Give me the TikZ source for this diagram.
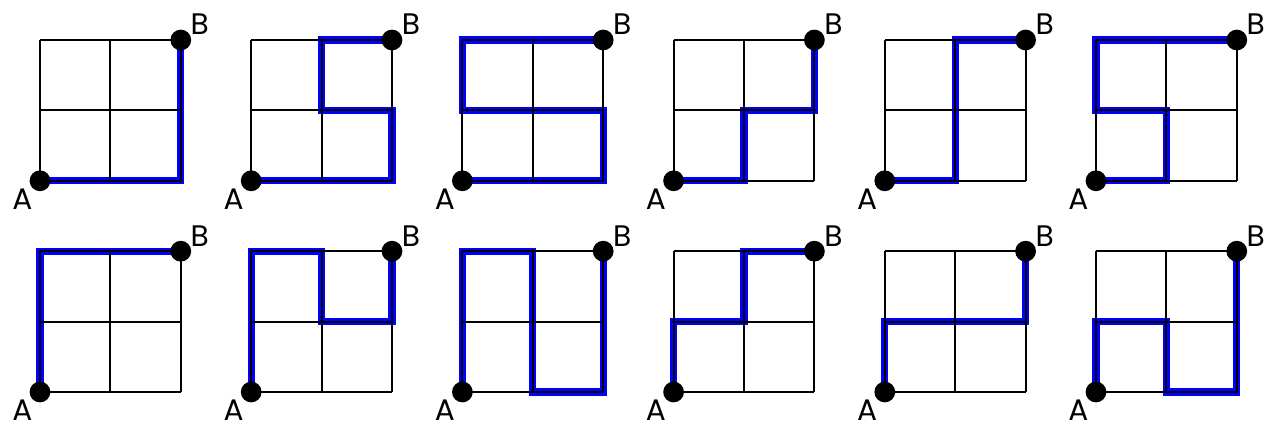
\documentclass[tikz,border=0pt]{standalone}
\usepackage{fontspec}
\setmainfont{Poppins}
\begin{document}
\begin{tikzpicture}[
  x=1cm,y=1cm,
  gridline/.style={line width=0.8pt},
  route/.style={blue,line width=2.9pt,line join=miter},
  dot/.style={circle,fill=black,inner sep=0pt,minimum size=2.95mm},
  lbl/.style={font=\fontsize{12}{14}\selectfont,inner sep=0pt}
]
\useasboundingbox (-0.568,-0.4545) rectangle (17.486,5.568);

% routes, top row
\draw[route] (0,3) -- (2,3) -- (2,5);
\draw[route] (3,3) -- (5,3) -- (5,4) -- (4,4) -- (4,5) -- (5,5);
\draw[route] (6,3) -- (8,3) -- (8,4) -- (6,4) -- (6,5) -- (8,5);
\draw[route] (9,3) -- (10,3) -- (10,4) -- (11,4) -- (11,5);
\draw[route] (12,3) -- (13,3) -- (13,5) -- (14,5);
\draw[route] (15,3) -- (16,3) -- (16,4) -- (15,4) -- (15,5) -- (17,5);
% routes, bottom row
\draw[route] (0,0) -- (0,2) -- (2,2);
\draw[route] (3,0) -- (3,2) -- (4,2) -- (4,1) -- (5,1) -- (5,2);
\draw[route] (6,0) -- (6,2) -- (7,2) -- (7,0) -- (8,0) -- (8,2);
\draw[route] (9,0) -- (9,1) -- (10,1) -- (10,2) -- (11,2);
\draw[route] (12,0) -- (12,1) -- (14,1) -- (14,2);
\draw[route] (15,0) -- (15,1) -- (16,1) -- (16,0) -- (17,0) -- (17,2);

% grids with end points
\foreach \c in {0,...,5}
  \foreach \r in {0,1}
  {
  \draw[gridline,shift={(3*\c,3*\r)}] (0,0) grid (2,2);
  \node[dot] (A\c\r) at (3*\c,3*\r) {};
  \node[dot] (B\c\r) at (3*\c+2,3*\r+2) {};
  \node[lbl] (a\c\r) at ([shift={(-0.25,-0.26)}]A\c\r) {A};
  \node[lbl] (b\c\r) at ([shift={(0.27,0.22)}]B\c\r) {B};
  }
\end{tikzpicture}
\end{document}
